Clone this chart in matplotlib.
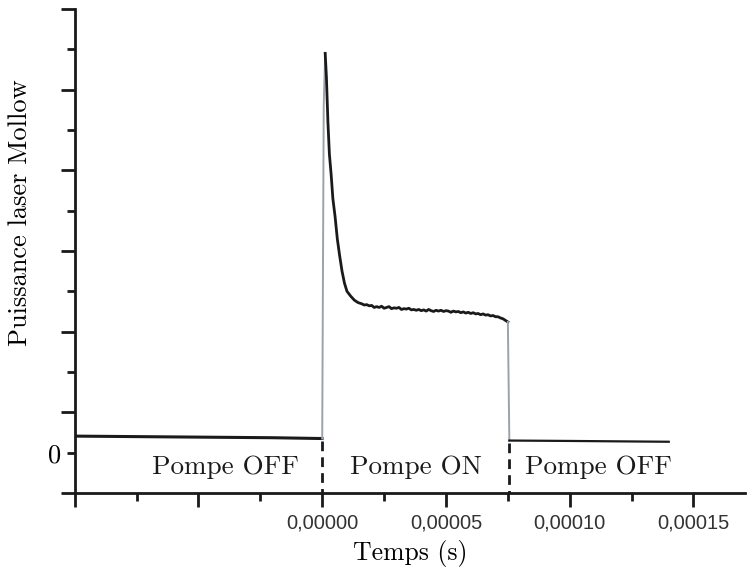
import numpy as np
import matplotlib
matplotlib.use("Agg")
import matplotlib.pyplot as plt
from matplotlib.ticker import FuncFormatter

# time in microseconds, power in arbitrary units
t_off1 = [-100.0, -60.0, -20.0, -0.1]
p_off1 = [0.41, 0.39, 0.37, 0.35]

t_on = [0.0, 0.6, 1.2, 1.7, 2.3, 2.9, 3.6, 4.3, 5.2, 6.1, 7.0, 8.0, 9.0, 10.0,
        11.5, 13.0, 14.5, 16.0, 17.0,
        18, 19, 20, 21, 22, 23, 24, 25, 26, 27, 28, 29, 30, 31, 32, 33, 34, 35,
        36, 37, 38, 39, 40, 41, 42, 43, 44, 45, 46, 47, 48, 49, 50, 51, 52, 53,
        54, 55, 56, 57, 58, 59, 60, 61, 62, 63, 64, 65, 66, 67, 68, 69, 70, 71,
        72, 73, 74, 75]
p_on = [0.35, 8.6, 9.9, 9.3, 8.2, 7.4, 6.9, 6.3, 5.85, 5.3, 4.9, 4.5, 4.2, 4.0,
        3.88, 3.78, 3.72, 3.69, 3.66,
        3.67, 3.64, 3.65, 3.60, 3.62, 3.60, 3.63, 3.58, 3.60, 3.62, 3.57, 3.59,
        3.58, 3.60, 3.55, 3.57, 3.56, 3.58, 3.54, 3.55, 3.53, 3.55, 3.52, 3.54,
        3.51, 3.55, 3.52, 3.50, 3.53, 3.51, 3.53, 3.50, 3.52, 3.51, 3.48, 3.51,
        3.49, 3.50, 3.47, 3.49, 3.46, 3.48, 3.45, 3.47, 3.44, 3.45, 3.42, 3.44,
        3.41, 3.42, 3.39, 3.40, 3.37, 3.37, 3.34, 3.32, 3.28, 3.24]

t_off2 = [75.6, 100.0, 120.0, 140.0]
p_off2 = [0.30, 0.29, 0.28, 0.27]

t_switch = [0.0, 75.6]
regions = ["Pompe OFF", "Pompe ON", "Pompe OFF"]
region_x = [-39, 37.7, 111.5]

x_major = [-100, -50, 0, 50, 100, 150]
x_minor = [-75, -25, 25, 75, 125]
y_major = [-1, 1, 3, 5, 7, 9, 11]
y_minor = [0, 2, 4, 6, 8, 10]

us = 1e-6
serif = "cmr10"
ink = "#1a1a1a"
gray = "#9aa2ab"

fig = plt.figure(figsize=(7.47, 5.69), dpi=100)
ax = fig.add_axes([0.1, 0.1336, 0.8973, 0.8506])

t_on_s = np.array(t_on) * us
# light grey switching edges, black trace
ax.plot(np.array(t_off1) * us, p_off1, color=ink, lw=2.2)
ax.plot([t_off1[-1] * us, t_on_s[0]], [p_off1[-1], p_on[0]], color=ink, lw=1.2)
ax.plot(t_on_s[:3], p_on[:3], color=gray, lw=1.4)
ax.plot(t_on_s[2:], p_on[2:], color=ink, lw=2.0)
ax.plot([t_on_s[-1], t_off2[0] * us], [p_on[-1], p_off2[0]], color=gray, lw=1.4)
ax.plot(np.array(t_off2) * us, p_off2, color=ink, lw=1.6)

# dashed markers of pump switching
for ts, lvl in zip(t_switch, [p_off1[-1], p_off2[0]]):
    ax.plot([ts * us, ts * us], [lvl - 0.05, -1], color=ink, lw=2,
            ls=(0, (3.5, 2.2)))

for lab, xr in zip(regions, region_x):
    ax.text(xr * us, -0.35, lab, ha="center", va="center",
            fontsize=19.5, family=serif, color=ink)

ax.set_xlim(-100 * us, 170.8 * us)
ax.set_ylim(-1, 11)

ax.set_xticks(np.array(x_major) * us)
ax.set_xticks(np.array(x_minor) * us, minor=True)
ax.xaxis.set_major_formatter(FuncFormatter(
    lambda v, p: f"{v:.5f}".replace(".", ",") if v > -1e-9 else ""))
ax.set_yticks(y_major, labels=[""] * len(y_major))
ax.set_yticks(y_minor, minor=True,
              labels=["0" if v == 0 else "" for v in y_minor])

ax.tick_params(axis="both", which="major", length=10, width=2, color=ink)
ax.tick_params(axis="both", which="minor", length=6, width=2, color=ink)
ax.tick_params(axis="x", which="major", labelsize=14.5, pad=5,
               labelcolor="#333333")
ax.tick_params(axis="y", which="minor", labelsize=19, pad=4)
for lbl in ax.get_yticklabels(minor=True):
    lbl.set_family(serif)
for lbl in ax.get_xticklabels():
    lbl.set_family("Liberation Sans")

for s in ["top", "right"]:
    ax.spines[s].set_visible(False)
for s in ["left", "bottom"]:
    ax.spines[s].set_linewidth(2)
    ax.spines[s].set_color(ink)

ax.set_xlabel("Temps (s)", fontsize=18.5, family=serif)
ax.xaxis.set_label_coords(0.5, -0.097)
ax.set_ylabel("Puissance laser Mollow", fontsize=19, family=serif)
ax.yaxis.set_label_coords(-0.064, 0.58)

fig.savefig("out.png", dpi=100)
